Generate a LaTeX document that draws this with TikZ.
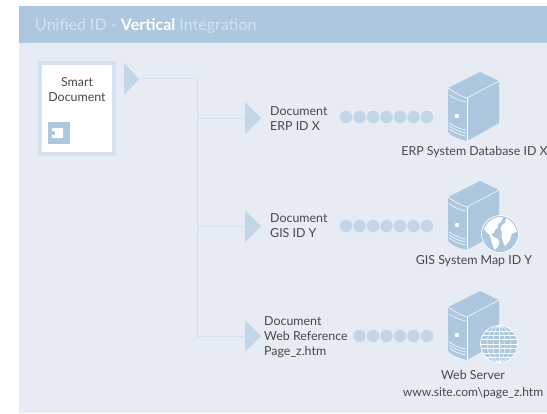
\documentclass[tikz,border=0pt]{standalone}
\usepackage{fontspec}
\setmainfont{Lato}
\definecolor{panel}{HTML}{E6EBF4}
\definecolor{head}{HTML}{ADC7DF}
\definecolor{midblue}{HTML}{C3D6E8}
\definecolor{pale}{HTML}{D5E1EE}
\definecolor{ink}{HTML}{484848}
\tikzset{
  x=1pt,y=-1pt,
  lbl/.style={text=ink,font=\fontsize{12.4}{15}\selectfont,inner sep=0pt,align=left,anchor=west},
  clbl/.style={lbl,align=center,anchor=center},
  pointer/.style={fill=midblue,draw=none},
  wire/.style={draw=pale,line width=1pt},
  beadnode/.style={circle,fill=midblue,draw=none,minimum size=12.5pt,inner sep=0pt},
  srvline/.style={draw=white,line width=.55pt},
  pics/server/.style={code={
    \fill[head] (448,88) .. controls (456,92) and (461,95) .. (467,98) -- (467,141)
      .. controls (460,139) and (452,137) .. (448,132) -- cycle;
    \fill[head] (448,88) -- (480,72) -- (499,81) -- (499,123) -- (467,141) -- (467,98) .. controls (461,95) and (456,92) .. (448,88);
    \draw[srvline] (448,88) .. controls (456,94) and (461,96) .. (467,98) -- (499,81);
    \draw[srvline] (467,98) -- (467,141);
    \draw[srvline] (449,95) .. controls (456,99) and (460,101) .. (466,102);
    \fill[white] (457,116) circle (2.2pt);
    \foreach \d in {0,3,6}{
      \draw[srvline] (449,{125+\d-2}) .. controls (455,{127+\d}) and (460,{129+\d}) .. (466,{130+\d});
    }
  }},
  globebase/.style={fill=head,draw=white,line width=.7pt},
}
\newcommand{\beadrow}[2]{%
  \foreach \i in {1,...,#2}{
    \node[beadnode] (b#1\i) at ({433-6-(#2-\i)*13.5},#1) {};
  }}
\begin{document}
\begin{tikzpicture}
\useasboundingbox (0,0) rectangle (547,413);
\fill[white] (0,0) rectangle (547,413);
\fill[panel] (19,6) rectangle (547,413);
\fill[head] (19,6) rectangle (547,43);
\node[inner sep=0pt,anchor=west,font=\fontsize{16}{20}\selectfont] (title) at (35,26.5)
  {\textcolor{panel!70!head}{Unified ID - }\textcolor{white}{\bfseries Vertical}\textcolor{panel!70!head}{\ Integration}};
% smart document
\node[draw=pale,line width=4pt,fill=white,minimum width=74pt,minimum height=91pt,inner sep=0pt] (doc) at (77,108.5) {};
\node[clbl] (doclabel) at (77,89.5) {Smart\\Document};
\node[fill=head,minimum size=22pt,inner sep=0pt] (icon) at (59,133) {};
\fill[white] (52,128) -- (63,128) -- (63,138) -- (52,138) -- (52,135) -- (55,135) -- (55,131) -- (52,131) -- cycle;
% pointers
\coordinate (src) at (142,78);
\coordinate (turn) at (197,78);
\coordinate (p1) at (245,118);
\coordinate (p2) at (245,226);
\coordinate (p3) at (245,336);
\coordinate (j1) at (197,118);
\coordinate (j2) at (197,226);
\coordinate (j3) at (197,336);
\draw[wire] (src) -- (turn) -- (j3) -- (p3);
\draw[wire] (j1) -- (p1);
\draw[wire] (j2) -- (p2);
\fill[pointer] (124,63) -- (139,79) -- (124,95) -- cycle;
\foreach \c in {p1,p2,p3}{
  \fill[pointer] (\c) ++(0,-16) -- ++(16,16) -- ++(-16,16) -- cycle;
}
% labels
\node[lbl] (d1) at (270,119) {Document\\ERP ID X};
\node[lbl] (d2) at (270,226) {Document\\GIS ID Y};
\node[lbl] (d3) at (264,337) {Document\\Web Reference\\Page\_z.htm};
% beads
\beadrow{117}{7}
\beadrow{226}{7}
\beadrow{336}{6}
% servers
\pic at (0,0) {server};
\pic at (0,109) {server};
\pic at (0,219) {server};
% globe 1
\node[circle,globebase,minimum size=37pt,inner sep=0pt] (g1) at (500,234) {};
\begin{scope}[shift={(g1)}]
\fill[white] (-16,-5) .. controls (-12,-14) and (-4,-18) .. (3,-17) .. controls (2,-13) and (0,-11) .. (-2,-10)
  .. controls (-1,-7) and (-3,-5) .. (-5,-4)
  .. controls (-5,-1) and (-7,0) .. (-9,0) .. controls (-7,4) and (-4,3) .. (-2,5) .. controls (1,8) and (-2,13) .. (-5,16) .. controls (-8,11) and (-9,6) .. (-10,1) .. controls (-13,-1) and (-15,-3) .. (-16,-5) -- cycle;
\fill[white] (6,-16) .. controls (11,-14) and (16,-8) .. (17,-2) .. controls (14,-1) and (12,-2) .. (11,2)
  .. controls (11,6) and (8,9) .. (5,12) .. controls (2,7) and (1,2) .. (2,-2) .. controls (-1,-5) and (2,-10) .. (5,-11) -- cycle;
\end{scope}
% globe 2
\node[circle,globebase,minimum size=37pt,inner sep=0pt] (g2) at (499,344) {};
\begin{scope}[shift={(g2)}]
\foreach \w in {6,12}{
  \draw[white,line width=.5pt] (0,0) ellipse (\w pt and 18pt);
}
\draw[white,line width=.5pt] (0,-18) -- (0,18);
\clip (0,0) circle (18);
\foreach \y in {-13,-9,-4.5,0,4.5,9,13}{
  \draw[white,line width=.5pt] (-18,\y) -- (18,\y);
}
\end{scope}
% server labels
\node[clbl] (s1) at (474.5,152) {ERP System Database ID X};
\node[clbl] (s2) at (474,261) {GIS System Map ID Y};
\node[clbl] (s3) at (473,384.5) {Web Server\\[2pt]{\fontsize{12.1}{15}\selectfont www.site.com\textbackslash page\_z.htm}};
\end{tikzpicture}
\end{document}
